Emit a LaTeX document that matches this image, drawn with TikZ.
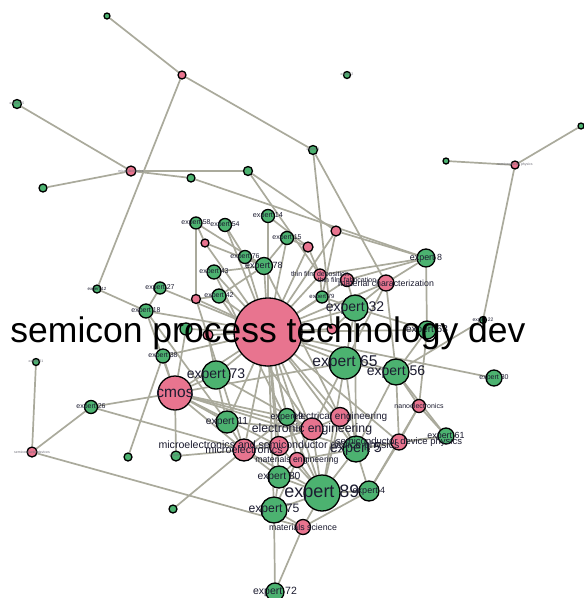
\documentclass[tikz,border=0pt]{standalone}
\usepackage{fontspec}
\setmainfont{Liberation Sans}
\newcommand{\lfs}[1]{\fontsize{#1}{#1}\selectfont}
\definecolor{gfill}{RGB}{76,178,112}
\definecolor{pfill}{RGB}{232,116,143}
\definecolor{edgec}{RGB}{170,170,156}
\definecolor{labc}{RGB}{28,28,48}
\definecolor{tinyc}{RGB}{110,110,120}
\pgfdeclarelayer{bglayer}
\pgfdeclarelayer{edgelayer}
\pgfdeclarelayer{labellayer}
\pgfsetlayers{bglayer,edgelayer,main,labellayer}
\begin{document}
\begin{tikzpicture}[x=1pt,y=-1pt,
  gn/.style={circle,draw=black,line width=1.3pt,fill=gfill,inner sep=0pt},
  pn/.style={circle,draw=black,line width=1.3pt,fill=pfill,inner sep=0pt},
  lab/.style={text=labc,inner sep=0pt},
  tiny/.style={text=tinyc,inner sep=0pt,font=\lfs{3.5}},
  ed/.style={draw=edgec,line width=1.7pt}]
\useasboundingbox (0,0) rectangle (584,598);
\begin{pgfonlayer}{bglayer}
\fill[white] (0,0) rectangle (584,598);
\end{pgfonlayer}
% ---------- nodes ----------
\node[gn,minimum size=6pt] (a1) at (107,16) {};
\node[pn,minimum size=8pt] (a2) at (182,75) {};
\node[gn,minimum size=9pt] (a3) at (17,104) {};
\node[pn,minimum size=10pt] (a4) at (131,171) {};
\node[gn,minimum size=8pt] (a5) at (43,188) {};
\node[gn,minimum size=9pt] (a6) at (248,171) {};
\node[gn,minimum size=8pt] (a7) at (191,178) {};
\node[gn,minimum size=7pt] (a8) at (347,75) {};
\node[gn,minimum size=9pt] (a9) at (313,150) {};
\node[gn,minimum size=6pt] (a10) at (446,161) {};
\node[pn,minimum size=8pt] (a11) at (515,165) {};
\node[gn,minimum size=6pt] (a12) at (581,126) {};
\node[gn,minimum size=12pt] (e58) at (196,223) {};
\node[gn,minimum size=13pt] (e54) at (225,225) {};
\node[gn,minimum size=13pt] (e14) at (268,216) {};
\node[gn,minimum size=13pt] (e15) at (287,238) {};
\node[pn,minimum size=8pt] (q1) at (205,243) {};
\node[pn,minimum size=10pt] (q2) at (308,247) {};
\node[pn,minimum size=10pt] (q3) at (336,231) {};
\node[gn,minimum size=13pt] (e76) at (245,257) {};
\node[gn,minimum size=17pt] (e78) at (264,266) {};
\node[gn,minimum size=14pt] (e43) at (214,272) {};
\node[pn,minimum size=12pt] (tfd) at (320,275) {};
\node[pn,minimum size=13pt] (tff) at (347,280) {};
\node[pn,minimum size=16pt] (mc) at (386,283) {};
\node[gn,minimum size=18pt] (e8) at (426,258) {};
\node[gn,minimum size=12pt] (e27) at (160,288) {};
\node[gn,minimum size=8pt] (e12) at (97,289) {};
\node[pn,minimum size=9pt] (q4) at (196,299) {};
\node[gn,minimum size=14pt] (e42) at (219,296) {};
\node[gn,minimum size=12pt] (e79) at (322,297) {};
\node[gn,minimum size=26pt] (e32) at (355,308) {};
\node[gn,minimum size=14pt] (e18) at (146,311) {};
\node[gn,minimum size=7pt] (e22) at (483,320) {};
\node[pn,minimum size=68pt] (hub) at (268,332) {};
\node[gn,minimum size=12pt] (g5x) at (186,329) {};
\node[pn,minimum size=10pt] (q5) at (208,335) {};
\node[pn,minimum size=10pt] (q6) at (332,329) {};
\node[gn,minimum size=18pt] (e63) at (427,330) {};
\node[gn,minimum size=14pt] (e38) at (163,356) {};
\node[gn,minimum size=7pt] (a13) at (36,362) {};
\node[gn,minimum size=32pt] (e65) at (345,363) {};
\node[gn,minimum size=28pt] (e73) at (216,375) {};
\node[gn,minimum size=26pt] (e56) at (396,372) {};
\node[gn,minimum size=16pt] (e30) at (494,378) {};
\node[pn,minimum size=34pt] (cmos) at (175,393) {};
\node[gn,minimum size=13pt] (e26) at (91,407) {};
\node[pn,minimum size=13pt] (nano) at (419,406) {};
\node[gn,minimum size=22pt] (e11) at (227,422) {};
\node[gn,minimum size=17pt] (e9) at (287,417) {};
\node[pn,minimum size=19pt] (ee) at (340,417) {};
\node[pn,minimum size=22pt] (ele) at (312,429) {};
\node[gn,minimum size=16pt] (e61) at (446,436) {};
\node[pn,minimum size=16pt] (sdp) at (399,442) {};
\node[pn,minimum size=19pt] (msd) at (279,446) {};
\node[pn,minimum size=22pt] (micro) at (244,450) {};
\node[gn,minimum size=26pt] (e5) at (356,449) {};
\node[pn,minimum size=10pt] (a14) at (32,452) {};
\node[gn,minimum size=8pt] (a15) at (128,457) {};
\node[gn,minimum size=10pt] (a16) at (176,456) {};
\node[pn,minimum size=15pt] (me) at (297,460) {};
\node[gn,minimum size=22pt] (e80) at (279,477) {};
\node[gn,minimum size=36pt] (e89) at (322,493) {};
\node[gn,minimum size=20pt] (e4) at (369,491) {};
\node[gn,minimum size=8pt] (a17) at (173,509) {};
\node[gn,minimum size=26pt] (e75) at (274,510) {};
\node[pn,minimum size=15pt] (ms) at (303,527) {};
\node[gn,minimum size=18pt] (e72) at (275,592) {};
% ---------- edges ----------
\begin{pgfonlayer}{edgelayer}
\foreach \u/\v in {a1/a2,a2/e12,a2/a9,a3/a4,a4/a5,a4/a6,a4/a7,a6/q3,a6/tfd,a7/e8,
  a9/q6,a9/mc,a10/a11,a11/a12,a11/e22,e22/e56,a13/a14,a14/e26,a14/ms,e26/cmos,
  e26/micro,a15/e38,a16/cmos,a16/micro,a17/micro,e72/e75,e72/ms,e30/hub,
  e58/q4,e58/q1,e58/e78,e54/e76,e54/hub,e14/hub,e14/q2,e15/hub,e15/e78,e15/q2,
  q1/e78,q1/hub,q2/hub,q2/tfd,q3/hub,q3/e8,q3/e79,e76/hub,e76/e78,e78/hub,
  e78/e43,e78/e42,e78/e5,e43/hub,e43/e89,e27/hub,e27/e18,e42/hub,e42/q4,e42/ele,
  q4/hub,q4/micro,e12/e18,e18/hub,e18/cmos,e18/e11,
  tfd/hub,tfd/e79,tfd/e8,tff/hub,tff/e8,tff/e32,mc/hub,mc/e8,mc/e32,mc/e65,mc/e56,
  e8/e63,e63/nano,e63/hub,e63/e32,e63/e56,e79/hub,e79/e32,e32/hub,e32/e65,e32/e5,
  q6/hub,q6/e32,e65/hub,e65/e56,e65/ele,e65/e5,e65/e89,e65/cmos,e56/hub,e56/nano,
  e56/e5,e56/e61,e56/sdp,
  e73/hub,e73/cmos,e73/e11,e73/ele,cmos/hub,cmos/e11,cmos/ele,cmos/micro,cmos/e9,
  cmos/e5,cmos/msd,e38/hub,e38/cmos,g5x/hub,g5x/cmos,q5/hub,q5/e73,e11/hub,
  e11/micro,e11/ele,e9/hub,e9/ele,e9/micro,ee/hub,ee/e5,ee/ele,ee/e89,ele/hub,
  ele/e89,ele/me,ele/micro,micro/hub,micro/e80,micro/msd,micro/e89,msd/hub,
  msd/e89,sdp/hub,sdp/e5,sdp/nano,sdp/e61,sdp/e4,nano/e61,nano/e4,e61/e5,e5/hub,
  e5/e89,e5/e4,e5/me,me/hub,me/e89,me/e75,me/e80,e80/hub,e80/e89,e80/e75,e89/hub,
  e89/e4,e89/ms,e89/e75,e75/hub,e75/ms,ms/e4}
  \draw[ed] (\u) -- (\v);
\end{pgfonlayer}
% ---------- labels ----------
\begin{pgfonlayer}{labellayer}
\node[tiny] (a3L) at (a3) {expert 35};
\node[tiny] (a4L) at (a4) {microelectronics};
\node[tiny] (a8L) at (a8) {expert 2};
\node[tiny] (a9L) at (a9) {expert 9};
\node[tiny] (a11L) at (a11) {semiconductor physics};
\node[tiny] (a13L) at (a13) {expert 21};
\node[tiny] (a14L) at (a14) {semiconductor devices};
\node[tiny] (a16L) at (a16) {expert 3};
\node[lab,font=\lfs{4.5}] (e12L) at (e12) {expert 12};
\node[lab,font=\lfs{5}] (e22L) at (e22) {expert 22};
\node[lab,font=\lfs{7}] (e58L) at (e58) {expert 58};
\node[lab,font=\lfs{7}] (e54L) at (e54) {expert 54};
\node[lab,font=\lfs{7.2}] (e14L) at (e14) {expert 14};
\node[lab,font=\lfs{7}] (e15L) at (e15) {expert 15};
\node[lab,font=\lfs{7}] (e76L) at (e76) {expert 76};
\node[lab,font=\lfs{9}] (e78L) at (e78) {expert 78};
\node[lab,font=\lfs{7}] (e43L) at (e43) {expert 43};
\node[lab,font=\lfs{7}] (tfdL) at (tfd) {thin film deposition};
\node[lab,font=\lfs{7}] (tffL) at (tff) {thin film fabrication};
\node[lab,font=\lfs{8.8}] (mcL) at (mc) {material characterization};
\node[lab,font=\lfs{8.9}] (e8L) at (e8) {expert 8};
\node[lab,font=\lfs{7}] (e27L) at (e27) {expert 27};
\node[lab,font=\lfs{7}] (e42L) at (e42) {expert 42};
\node[lab,font=\lfs{6}] (e79L) at (e79) {expert 79};
\node[lab,font=\lfs{14}] (e32L) at (e32) {expert 32};
\node[lab,font=\lfs{7}] (e18L) at (e18) {expert 18};
\node[lab,font=\lfs{10}] (e63L) at (e63) {expert 63};
\node[lab,font=\lfs{7}] (e38L) at (e38) {expert 38};
\node[lab,font=\lfs{15.6}] (e65L) at (e65) {expert 65};
\node[lab,font=\lfs{14}] (e73L) at (e73) {expert 73};
\node[lab,font=\lfs{14}] (e56L) at (e56) {expert 56};
\node[lab,font=\lfs{7}] (e30L) at (e30) {expert 30};
\node[lab,font=\lfs{15.5}] (cmosL) at (cmos) {cmos};
\node[lab,font=\lfs{7}] (e26L) at (e26) {expert 26};
\node[lab,font=\lfs{7}] (nanoL) at (nano) {nanoelectronics};
\node[lab,font=\lfs{10.3}] (e11L) at (e11) {expert 11};
\node[lab,font=\lfs{9}] (e9L) at (e9) {expert 9};
\node[lab,font=\lfs{10}] (eeL) at (ee) {electrical engineering};
\node[lab,font=\lfs{12.3}] (eleL) at (ele) {electronic engineering};
\node[lab,font=\lfs{8.9}] (e61L) at (e61) {expert 61};
\node[lab,font=\lfs{9.5}] (sdpL) at (sdp) {semiconductor device physics};
\node[lab,font=\lfs{10.6}] (msdL) at (msd) {microelectronics and semiconductor device physics};
\node[lab,font=\lfs{10.7}] (microL) at (micro) {microelectronics};
\node[lab,font=\lfs{14.4}] (e5L) at (e5) {expert 5};
\node[lab,font=\lfs{8.7}] (meL) at (me) {materials engineering};
\node[lab,font=\lfs{10.3}] (e80L) at (e80) {expert 80};
\node[lab,font=\lfs{18}] (e89L) at (e89) {expert 89};
\node[lab,font=\lfs{9}] (e4L) at (e4) {expert 4};
\node[lab,font=\lfs{12.2}] (e75L) at (e75) {expert 75};
\node[lab,font=\lfs{8.8}] (msL) at (ms) {materials science};
\node[lab,font=\lfs{10.5}] (e72L) at (e72) {expert 72};
\node[inner sep=0pt,text=black,font=\lfs{35.5}] (hubL) at (268,333) {semicon process technology dev};
\end{pgfonlayer}
\end{tikzpicture}
\end{document}
